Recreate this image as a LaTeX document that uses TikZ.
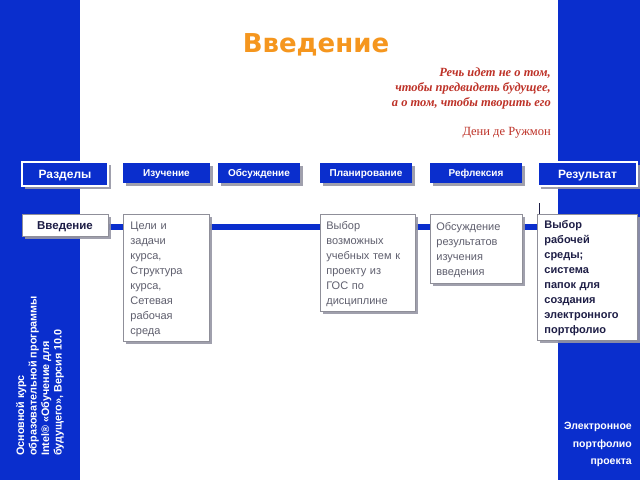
\documentclass[tikz,border=0pt]{standalone}
\usepackage{fontspec}
\setmainfont{Liberation Serif}
\setsansfont{Liberation Sans}
\newfontfamily\djv{DejaVu Sans}
\usetikzlibrary{shadows,backgrounds}
\definecolor{bandblue}{RGB}{10,46,205}
\definecolor{titleorange}{RGB}{245,150,30}
\definecolor{quotered}{RGB}{190,50,40}
\definecolor{boxgray}{RGB}{95,95,110}
\definecolor{navy}{RGB}{30,30,70}
\definecolor{shadowgray}{RGB}{150,150,165}
\tikzset{
  shad/.style={drop shadow={shadow xshift=3pt,shadow yshift=-3pt,fill=shadowgray,opacity=0.9}},
  hdr/.style={shad,fill=bandblue,text=white,font=\sffamily\bfseries\fontsize{10}{11}\selectfont,minimum height=20pt,inner sep=0pt,text height=7pt,text depth=0pt},
  hdrbig/.style={hdr,draw=white,line width=1.2pt,font=\sffamily\bfseries\fontsize{12}{13}\selectfont,minimum height=24pt,text height=8.5pt},
  cbox/.style={shad,fill=white,draw=boxgray!70,line width=0.8pt,anchor=north west,align=left,inner sep=0pt,text=boxgray,font=\sffamily\fontsize{11}{15}\selectfont},
  sidetxt/.style={text=white,font=\sffamily\bfseries\fontsize{10.8}{12.5}\selectfont,align=left,inner sep=0pt}
}
\begin{document}
\begin{tikzpicture}[x=1pt,y=-1pt]
\useasboundingbox (0,0) rectangle (640,480);
\begin{scope}[on background layer]
\fill[white] (0,0) rectangle (640,480);
\fill[bandblue] (0,0) rectangle (80,480);
\fill[bandblue] (558,0) rectangle (640,480);
\end{scope}
% title
\node[text=titleorange,font=\djv\bfseries\fontsize{26}{30}\selectfont] (title) at (316,45) {Введение};
% quote
\node[anchor=north east,align=right,text=quotered,font=\rmfamily\itshape\bfseries\fontsize{12.5}{15}\selectfont,inner sep=0pt] (quote) at (551,68) {Речь идет не о том,\\чтобы предвидеть будущее,\\а о том, чтобы творить его};
\node[anchor=base east,text=quotered,font=\rmfamily\fontsize{12.5}{15}\selectfont,inner sep=0pt] (author) at (551,135) {Дени де Ружмон};
% header row
\node[hdrbig,minimum width=86pt] (razd) at (65,174) {Разделы};
\node[hdr,minimum width=87pt] (izuch) at (166.5,173) {Изучение};
\node[hdr,minimum width=82pt] (obsu) at (259,173) {Обсуждение};
\node[hdr,minimum width=92pt] (plan) at (366,173) {Планирование};
\node[hdr,minimum width=92pt] (refl) at (476,173) {Рефлексия};
\node[hdrbig,minimum width=99pt] (resu) at (587.5,174) {Результат};
% second row
\node[shad,fill=white,draw=boxgray!70,line width=0.8pt,minimum width=86pt,minimum height=22pt,inner sep=0pt,text height=8.3pt,text depth=0pt,text=navy,font=\sffamily\bfseries\fontsize{11.5}{13}\selectfont] (vved) at (65,225) {Введение};
\node[cbox,text width=86pt,minimum height=127pt] (c1) at (123,214) {\hspace*{7pt}\parbox[t]{78pt}{\vspace*{2pt}Цели и\\задачи\\курса,\\Структура\\курса,\\Сетевая\\рабочая\\среда}};
\node[cbox,text width=95pt,minimum height=97pt] (c2) at (320,214) {\hspace*{6pt}\parbox[t]{88pt}{\vspace*{2pt}Выбор\\возможных\\учебных тем к\\проекту из\\ГОС по\\дисциплине}};
\node[cbox,text width=92pt,minimum height=69pt] (c3) at (430,214) {\hspace*{6pt}\parbox[t]{86pt}{\vspace*{2pt}Обсуждение\\результатов\\изучения\\введения}};
\node[cbox,text width=100pt,minimum height=126pt,text=navy,font=\sffamily\bfseries\fontsize{11}{15}\selectfont] (c4) at (537,214) {\hspace*{7pt}\parbox[t]{92pt}{\vspace*{2pt}Выбор\\рабочей\\среды;\\система\\папок для\\создания\\электронного\\портфолио}};
\begin{scope}[on background layer]
\draw[bandblue,line width=6pt] ([yshift=-2pt]vved.east) -- ([yshift=-2pt]vved.east -| c4.west);
\end{scope}
\coordinate (tick) at (539,203);
\draw[navy,line width=0.6pt] (tick) -- (tick |- c4.north);
% side texts
\node[sidetxt,rotate=90,anchor=north west] (course) at (16,456) {Основной курс\\образовательной программы\\Intel® «Обучение для\\будущего», Версия 10.0};
\node[sidetxt,anchor=north east,align=right,font=\sffamily\bfseries\fontsize{10.5}{17.5}\selectfont] (port) at (632,422) {Электронное\\портфолио\\проекта};
\end{tikzpicture}
\end{document}
